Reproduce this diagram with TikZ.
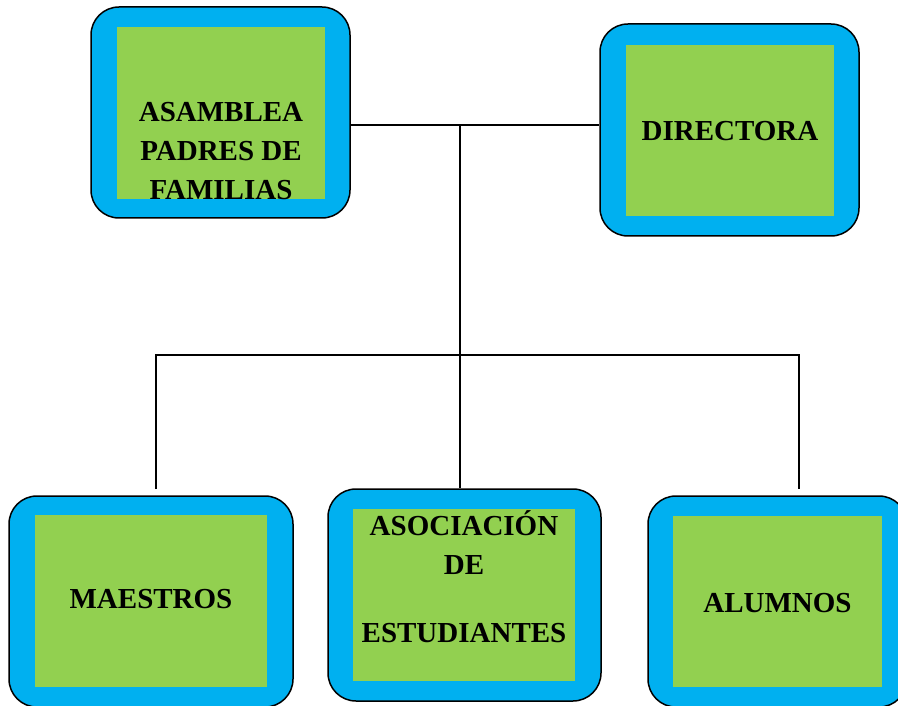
\documentclass[tikz,border=0pt]{standalone}
\usepackage{fontspec}
\setmainfont{Liberation Serif}
\definecolor{boxblue}{HTML}{00B0F0}
\definecolor{boxgreen}{HTML}{92D050}
\begin{document}
\begin{tikzpicture}[x=1pt,y=-1pt,
  outerbox/.style={draw=black, line width=1.5pt, fill=boxblue, rounded corners=28pt, inner sep=0pt},
  innerbox/.style={fill=boxgreen, draw=none, inner sep=0pt},
  lbl/.style={anchor=base, inner sep=0pt, font=\fontsize{29}{39}\selectfont\bfseries},
  conn/.style={draw=black, line width=1.4pt}]
\useasboundingbox (0,0) rectangle (898,706);
\clip (0,0) rectangle (898,706);
\fill[white] (0,0) rectangle (898,706);
% boxes
\node[outerbox, minimum width=259pt, minimum height=211pt] (asam) at (220.5,112.5) {};
\node[innerbox, minimum width=208pt, minimum height=172pt] (asamIn) at (221,113) {};
\node[outerbox, minimum width=259pt, minimum height=212pt] (dir) at (729.5,130) {};
\node[innerbox, minimum width=208pt, minimum height=171pt] (dirIn) at (730,130.5) {};
\node[outerbox, minimum width=284pt, minimum height=211pt] (mae) at (151,601.5) {};
\node[innerbox, minimum width=232pt, minimum height=172pt] (maeIn) at (151,601) {};
\node[outerbox, minimum width=273pt, minimum height=212pt] (asoc) at (464.5,595) {};
\node[innerbox, minimum width=222pt, minimum height=172pt] (asocIn) at (464,595) {};
\node[outerbox, minimum width=259pt, minimum height=211pt] (alum) at (777.5,601.5) {};
\node[innerbox, minimum width=209pt, minimum height=171pt] (alumIn) at (777.5,601.5) {};
% labels
\begin{scope}
\clip (asamIn.south west) rectangle (asamIn.north east);
\node[lbl] (tA1) at (221,122) {ASAMBLEA};
\node[lbl] (tA2) at (221,161) {PADRES DE};
\node[lbl] (tA3) at (221,200) {FAMILIAS};
\end{scope}
\node[lbl] (tD) at (730,141) {DIRECTORA};
\node[lbl] (tM) at (151,608) {MAESTROS};
\node[lbl] (tS1) at (464,535) {ASOCIACIÓN};
\node[lbl] (tS2) at (464,574) {DE};
\node[lbl] (tS3) at (464,642) {ESTUDIANTES};
\node[lbl] (tL) at (777.5,612) {ALUMNOS};
% connectors
\coordinate (j1) at (460,125);
\coordinate (j2) at (460,355);
\coordinate (l1) at (156,489);
\coordinate (r1) at (799,489);
\draw[conn] (asam.east |- j1) -- (dir.west |- j1);
\draw[conn] (j1) -- (j1 |- asoc.north);
\draw[conn] (l1) |- (j2) -| (r1);
\end{tikzpicture}
\end{document}
